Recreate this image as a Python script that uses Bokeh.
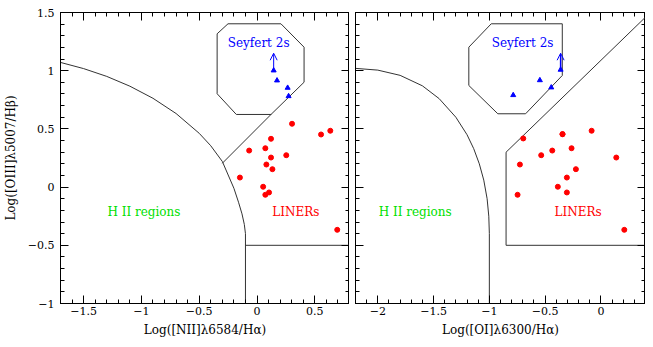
from bokeh.plotting import figure
from bokeh.layouts import row
from bokeh.models import (FixedTicker, LinearAxis, Arrow, OpenHead, ColumnDataSource,
                          CustomJSTickFormatter)
from bokeh.core.properties import value
from bokeh.embed import file_html
from bokeh.resources import INLINE
import numpy as np

# ---------------- data ----------------
# shared y: log([OIII]5007/Hb)
liner_y = [0.544, 0.484, 0.452, 0.415, 0.314, 0.334, 0.274, 0.254, 0.194, 0.154,
           0.082, 0.003, -0.046, -0.066, -0.367]
# left panel: log([NII]6584/Ha)
liner_nii = [0.303, 0.634, 0.554, 0.121, -0.068, 0.072, 0.253, 0.121, 0.081, 0.133,
             -0.148, 0.053, 0.104, 0.072, 0.694]
# right panel: log([OI]6300/Ha)
liner_oi = [-0.344, -0.083, -0.344, -0.696, -0.436, -0.263, -0.535, 0.138, -0.726, -0.224,
            -0.305, -0.386, -0.305, -0.747, 0.210]
liner_oi_y = [0.455, 0.484, 0.455, 0.418, 0.314, 0.334, 0.274, 0.254, 0.194, 0.154,
              0.082, 0.003, -0.046, -0.066, -0.367]

sey_nii = [0.144, 0.173, 0.265, 0.273]
sey_nii_y = [1.002, 0.916, 0.853, 0.781]
sey_oi = [-0.361, -0.547, -0.445, -0.786]
sey_oi_y = [1.008, 0.918, 0.856, 0.790]
# lower limits (arrows)
lim_nii, lim_nii_y0, lim_nii_y1 = [0.144], [1.002], [1.15]
lim_oi, lim_oi_y0, lim_oi_y1 = [-0.361], [1.008], [1.15]

# demarcation lines, left panel
hii_nii_x = [-1.7, -1.5, -1.3, -1.1, -0.9, -0.7, -0.5, -0.4, -0.3, -0.2, -0.16, -0.13, -0.11, -0.1, -0.1]
hii_nii_y = [1.071, 1.018, 0.951, 0.867, 0.763, 0.632, 0.462, 0.355, 0.22, -0.01, -0.13, -0.23, -0.32, -0.4, -1.0]
liner_nii_bx = [-0.1, 0.8]
liner_nii_by = [-0.5, -0.5]
diag_nii_x = [-0.30, 0.121]
diag_nii_y = [0.205, 0.624]
oct_nii_x = [-0.251, 0.207, 0.407, 0.407, 0.121, -0.179, -0.345, -0.345, -0.251]
oct_nii_y = [1.403, 1.403, 1.202, 0.901, 0.624, 0.624, 0.802, 1.317, 1.403]

# demarcation lines, right panel
hii_oi_x = [-2.2, -2.0, -1.8, -1.6, -1.45, -1.3, -1.2, -1.14, -1.09, -1.05, -1.02, -1.005, -1.0, -1.0]
hii_oi_y = [1.02, 1.005, 0.96, 0.87, 0.76, 0.60, 0.45, 0.33, 0.2, 0.06, -0.1, -0.25, -0.4, -1.0]
liner_oi_bx = [0.4, -0.85, -0.85, 0.4]
liner_oi_by = [-0.5, -0.5, 0.3, 1.46]
oct_oi_x = [-0.983, -0.346, -0.346, -0.675, -0.924, -1.184, -1.184, -0.983]
oct_oi_y = [1.403, 1.403, 0.959, 0.630, 0.630, 0.873, 1.202, 1.403]

# region labels: (x, y)
lab_nii = {"Seyfert 2s": (0.014, 1.234), "LINERs": (0.336, -0.216), "H II regions": (-0.978, -0.216)}
lab_oi = {"Seyfert 2s": (-0.702, 1.234), "LINERs": (-0.204, -0.216), "H II regions": (-1.665, -0.216)}

y_ticks = [-1, -0.5, 0, 0.5, 1, 1.5]
nii_ticks = [-1.5, -1, -0.5, 0, 0.5]
oi_ticks = [-2, -1.5, -1, -0.5, 0]

FONT = "DejaVu Serif"
LINE = "#333333"
RED, BLUE, GREEN = "#ff0000", "#0000ff", "#00e000"

minus_fmt = "return String(tick).replace('-', '\u2212');"


def style_axis(ax, ticks, minor, labels=True):
    ax.ticker = FixedTicker(ticks=ticks, minor_ticks=minor)
    ax.axis_line_color = "black"
    ax.major_tick_line_color = "black"
    ax.minor_tick_line_color = "black"
    ax.major_tick_in = 8
    ax.major_tick_out = 0
    ax.minor_tick_in = 4
    ax.minor_tick_out = 0
    if labels:
        ax.formatter = CustomJSTickFormatter(code=minus_fmt)
        ax.major_label_text_font = FONT
        ax.major_label_text_font_size = "11px"
        ax.major_label_text_color = "black"
        ax.axis_label_text_font = FONT
        ax.axis_label_text_font_size = "12px"
        ax.axis_label_text_font_style = "normal"
        ax.axis_label_text_color = "black"
    else:
        ax.formatter = CustomJSTickFormatter(code="return '';")
        ax.major_label_text_font_size = "0px"
        ax.major_label_standoff = 0
        ax.axis_label = None


def make_panel(xr, xticks, width, border_left, xlabel, ylabel):
    p = figure(width=width, height=343, x_range=xr, y_range=(-1, 1.5),
               output_backend="svg", toolbar_location=None,
               min_border_left=border_left, min_border_right=0,
               min_border_top=12, min_border_bottom=40)
    p.grid.visible = False
    p.outline_line_color = "black"
    p.background_fill_color = "white"
    p.border_fill_color = "white"
    xminor = list(np.round(np.arange(xr[0], xr[1] + 0.001, 0.1), 2))
    yminor = list(np.round(np.arange(-1, 1.501, 0.1), 2))

    style_axis(p.xaxis[0], xticks, xminor)
    p.xaxis[0].axis_label = xlabel
    p.xaxis[0].major_label_standoff = 3
    p.xaxis[0].axis_label_standoff = 5

    if ylabel:
        style_axis(p.yaxis[0], y_ticks, yminor)
        p.yaxis[0].axis_label = ylabel
        p.yaxis[0].major_label_standoff = 6
        p.yaxis[0].axis_label_standoff = 7
    else:
        style_axis(p.yaxis[0], y_ticks, yminor, labels=False)

    top = LinearAxis()
    style_axis(top, xticks, xminor, labels=False)
    p.add_layout(top, "above")
    right = LinearAxis()
    style_axis(right, y_ticks, yminor, labels=False)
    p.add_layout(right, "right")
    return p


p1 = make_panel((-1.7, 0.8), nii_ticks, 349, 58,
                "Log([NII]\u03bb6584/H\u03b1)", "Log([OIII]\u03bb5007/H\u03b2)")
p2 = make_panel((-2.2, 0.4), oi_ticks, 296, 6,
                "Log([OI]\u03bb6300/H\u03b1)", None)

# left panel lines
p1.line(hii_nii_x, hii_nii_y, line_color=LINE, line_width=1)
p1.line(liner_nii_bx, liner_nii_by, line_color=LINE, line_width=1)
p1.line(diag_nii_x, diag_nii_y, line_color=LINE, line_width=1)
p1.line(oct_nii_x, oct_nii_y, line_color=LINE, line_width=1)
# right panel lines
p2.line(hii_oi_x, hii_oi_y, line_color=LINE, line_width=1)
p2.line(liner_oi_bx, liner_oi_by, line_color=LINE, line_width=1)
p2.line(oct_oi_x, oct_oi_y, line_color=LINE, line_width=1)

# points
p1.scatter(liner_nii, liner_y, marker="circle", size=5, color=RED)
p2.scatter(liner_oi, liner_oi_y, marker="circle", size=5, color=RED)
p1.scatter(sey_nii, sey_nii_y, marker="triangle", size=5, color=BLUE)
p2.scatter(sey_oi, sey_oi_y, marker="triangle", size=5, color=BLUE)

for p, lx, ly0, ly1, w in ((p1, lim_nii, lim_nii_y0, lim_nii_y1, 1),
                           (p2, lim_oi, lim_oi_y0, lim_oi_y1, 1.5)):
    src = ColumnDataSource(dict(x=lx, y0=ly0, y1=ly1))
    p.add_layout(Arrow(end=OpenHead(size=7, line_color=BLUE, line_width=1),
                       x_start="x", y_start="y0", x_end="x", y_end="y1",
                       line_color=BLUE, line_width=w, source=src))

colors = {"Seyfert 2s": BLUE, "LINERs": RED, "H II regions": GREEN}
for p, labs in ((p1, lab_nii), (p2, lab_oi)):
    names = list(labs.keys())
    p.text(x=[labs[n][0] for n in names], y=[labs[n][1] for n in names], text=names,
           text_color=[colors[n] for n in names], text_font=value(FONT),
           text_font_size="12px", text_align="center", text_baseline="middle")

layout = row(p1, p2)
open("out.html", "w").write(file_html(layout, INLINE))
